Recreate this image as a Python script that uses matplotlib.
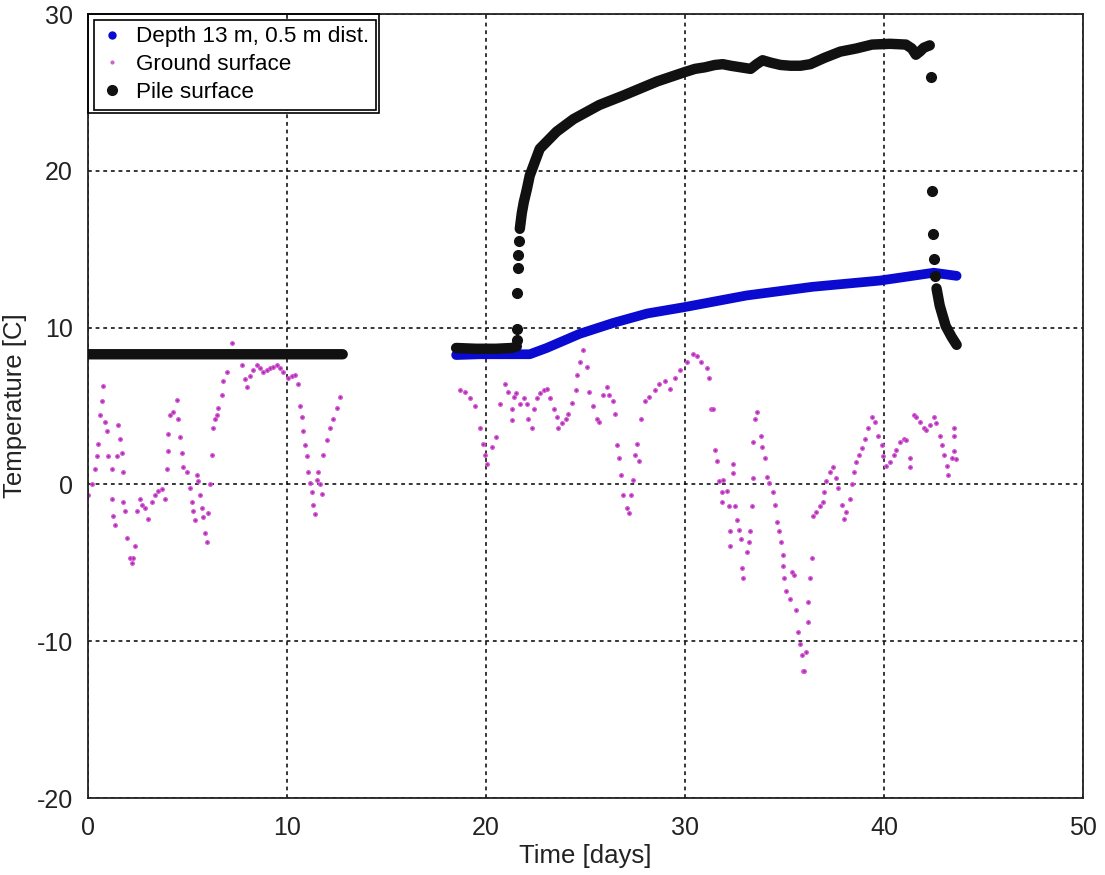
import matplotlib
matplotlib.use('Agg')
import matplotlib.pyplot as plt
import numpy as np
from matplotlib.lines import Line2D
from matplotlib.patches import Rectangle
from matplotlib.transforms import IdentityTransform

plt.rcParams['font.family'] = ['Liberation Sans', 'DejaVu Sans']
plt.rcParams['axes.unicode_minus'] = False

# Depth 13 m, 0.5 m dist. (dense record, read along the band)
depth_day = [18.5, 19.7, 21.0, 22.2, 23.05, 24.7, 26.4, 28.1, 29.95, 33.1, 36.4, 39.8, 42.5, 43.65]
depth_temp = [8.25, 8.3, 8.3, 8.3, 8.7, 9.6, 10.3, 10.9, 11.3, 12.05, 12.6, 13.0, 13.5, 13.3]

# Pile surface, dense parts (nan = gap in the record)
pile_day = [0.0, 4.0, 8.0, 12.8, np.nan,
            18.5, 19.5, 20.5, 21.3, 21.55, np.nan,
            21.7, 21.8, 21.9, 22.05, 22.2, 22.7, 23.55, 24.4, 25.7, 26.9, 28.6, 30.0,
            30.5, 31.0, 31.5, 31.9, 32.3, 32.8, 33.3, 33.6, 33.9, 34.3, 34.8, 35.3, 35.8,
            36.3, 37.0, 37.8, 38.6, 39.4, 40.3, 41.1, 41.4, 41.6, 41.8, 42.0, 42.3, np.nan,
            42.64, 42.8, 43.1, 43.4, 43.65]
pile_temp = [8.3, 8.3, 8.3, 8.3, np.nan,
             8.7, 8.65, 8.65, 8.7, 8.8, np.nan,
             16.3, 17.3, 18.0, 18.8, 19.7, 21.4, 22.5, 23.3, 24.2, 24.8, 25.7, 26.3,
             26.5, 26.6, 26.75, 26.8, 26.7, 26.6, 26.5, 26.8, 27.05, 26.9, 26.75, 26.7, 26.7,
             26.8, 27.2, 27.6, 27.8, 28.05, 28.1, 28.05, 27.8, 27.4, 27.6, 27.85, 28.0, np.nan,
             12.5, 11.4, 10.1, 9.4, 8.9]

# Pile surface, isolated readings during fast changes
pile_pts_day = [21.54, 21.54, 21.56, 21.6, 21.63, 21.66, 42.35, 42.4, 42.45, 42.5, 42.55]
pile_pts_temp = [9.2, 9.9, 12.2, 13.8, 14.6, 15.5, 26.0, 18.7, 16.0, 14.4, 13.3]

# Ground surface
ground_day = [0.02, 0.19, 0.35, 0.44, 0.52, 0.6, 0.69, 0.74, 0.86, 0.94, 1.02, 1.19, 1.19, 1.27,
              1.36, 1.44, 1.53, 1.61, 1.69, 1.78, 1.78, 1.86, 1.95, 2.11, 2.2, 2.28, 2.36, 2.45,
              2.62, 2.7, 2.87, 3.03, 3.2, 3.37, 3.54, 3.7, 3.87, 3.96, 4.04, 4.04, 4.12, 4.29,
              4.46, 4.54, 4.63, 4.71, 4.79, 4.96, 5.13, 5.21, 5.3, 5.38, 5.46, 5.55, 5.63, 5.71,
              5.8, 5.88, 5.97, 6.05, 6.13, 6.22, 6.3, 6.38, 6.47, 6.55, 6.72, 6.8, 6.97, 7.22,
              7.47, 7.72, 7.89, 7.97, 8.14, 8.3, 8.48, 8.65, 8.81, 8.98, 9.15, 9.3, 9.48, 9.65,
              9.82, 10.07, 10.25, 10.4, 10.57, 10.66, 10.74, 10.82, 10.91, 11.0, 11.07, 11.16,
              11.24, 11.33, 11.41, 11.49, 11.58, 11.66, 11.74, 11.83, 12.0, 12.16, 12.33, 12.5,
              12.66,
              18.7, 18.95, 19.2, 19.45, 19.7, 19.87, 19.95, 20.04, 20.3, 20.5, 20.7, 20.96,
              21.1, 21.3, 21.3, 21.4, 21.5, 21.7, 21.9, 22.05, 22.1, 22.3, 22.4, 22.55, 22.7,
              22.9, 23.05, 23.2, 23.4, 23.55, 23.6, 23.8, 24.0, 24.1, 24.3, 24.5, 24.55, 24.7,
              24.9, 25.06, 25.2, 25.4, 25.6, 25.7, 25.9, 26.1, 26.2, 26.4, 26.5, 26.6, 26.7,
              26.8, 26.9, 27.1, 27.2, 27.3, 27.4, 27.5, 27.6, 27.7, 27.8, 28.0, 28.2, 28.5,
              28.7, 29.0, 29.25, 29.5, 29.75, 30.1, 30.4, 30.6, 30.8, 31.1, 31.2, 31.3, 31.4,
              31.5, 31.6, 31.7, 31.85, 31.9, 32.1, 31.85, 32.2, 32.25, 32.25, 32.4, 32.4, 32.5,
              32.6, 32.7, 32.8, 32.85, 32.9, 33.1, 33.2, 33.25, 33.35, 33.4, 33.4, 33.5, 33.6,
              33.8, 33.85, 34.0, 34.1, 34.2, 34.4, 34.5, 34.6, 34.7, 34.8, 34.9, 34.95, 35.0,
              35.1, 35.3, 35.4, 35.5, 35.6, 35.7, 35.8, 35.9, 35.95, 36.0, 36.1, 36.2, 36.2,
              36.3, 36.4, 36.45, 36.6, 36.8, 36.95, 37.0, 37.1, 37.3, 37.45, 37.6, 37.7, 37.9,
              38.0, 38.1, 38.3, 38.4, 38.5, 38.6, 38.75, 38.9, 39.05, 39.2, 39.4, 39.55, 39.7,
              39.9, 39.97, 40.1, 40.3, 40.5, 40.6, 40.8, 41.0, 41.1, 41.3, 41.3, 41.5, 41.6,
              41.8, 42.0, 42.1, 42.3, 42.5, 42.6, 42.8, 42.9, 43.0, 43.15, 43.2, 43.4, 43.5,
              43.5, 43.5, 43.6]
ground_temp = [-0.7, 0.0, 1.0, 1.8, 2.6, 4.4, 5.3, 6.3, 4.0, 3.4, 1.8, 1.0, -0.9, -2.0,
               -2.6, 1.8, 3.8, 2.9, 2.0, 0.8, -1.1, -1.7, -3.4, -4.7, -5.0, -4.7, -3.9, -1.7,
               -0.9, -1.3, -1.5, -2.2, -1.1, -0.7, -0.4, -0.3, -0.9, 1.0, 2.1, 3.2, 4.4, 4.6,
               5.4, 4.2, 3.0, 2.0, 1.1, 0.8, -0.2, -1.1, -1.7, -2.3, 0.6, 0.2, -0.7, -1.5,
               -2.1, -3.1, -3.7, -1.8, 0.0, 1.9, 3.6, 4.2, 4.4, 4.9, 5.7, 6.6, 7.2, 9.0,
               8.3, 7.6, 6.75, 6.2, 6.9, 7.3, 7.6, 7.4, 7.2, 7.3, 7.4, 7.5, 7.6, 7.4,
               7.2, 6.8, 6.9, 7.0, 6.4, 5.0, 4.3, 3.4, 2.5, 1.8, 0.8, 0.1,
               -0.5, -1.3, -1.9, 0.3, 0.8, 0.0, -0.6, 1.9, 2.8, 3.6, 4.2, 4.9,
               5.6,
               6.0, 5.9, 5.5, 5.0, 3.6, 2.6, 1.9, 1.3, 2.4, 3.0, 5.1, 6.4,
               5.9, 4.8, 4.1, 5.6, 5.8, 5.1, 5.5, 5.1, 4.2, 3.6, 4.8, 5.5, 5.8,
               6.0, 6.1, 5.5, 4.8, 4.3, 3.6, 3.9, 4.2, 4.5, 5.2, 6.0, 7.0, 7.8,
               8.6, 7.5, 5.9, 5.0, 4.2, 4.0, 5.7, 6.2, 5.7, 5.3, 4.5, 2.5, 1.7,
               0.6, -0.7, -1.5, -1.8, -0.7, 0.3, 1.9, 2.6, 1.5, 4.2, 5.3, 5.6, 6.0,
               6.4, 6.6, 6.1, 6.8, 7.3, 7.8, 8.3, 8.2, 7.8, 7.4, 6.8, 4.8, 4.8,
               2.2, 1.5, 0.2, -0.5, 0.3, -0.4, -1.1, -1.4, -3.0, -3.9, 1.3, 0.7, -1.4,
               -2.3, -2.9, -3.5, -5.3, -6.0, -4.3, -3.7, -3.0, -1.4, 0.4, 2.7, 4.2, 4.6,
               3.1, 2.4, 1.7, 0.5, 0.1, -0.5, -1.3, -2.4, -3.0, -3.7, -4.5, -5.2, -6.0,
               -6.8, -7.3, -5.6, -5.8, -8.0, -9.4, -10.2, -10.9, -11.9, -11.9, -10.7, -8.8, -7.5,
               -6.0, -4.7, -2.0, -1.75, -1.4, -1.1, -0.5, 0.2, 0.8, 1.1, 0.4, -0.2, -1.3,
               -2.2, -1.75, -0.9, 0.0, 0.8, 1.4, 1.9, 2.3, 2.9, 3.6, 4.3, 4.0, 3.1,
               2.5, 1.8, 1.2, 1.4, 1.9, 2.2, 2.7, 2.9, 2.8, 1.7, 1.1, 4.4, 4.3,
               4.0, 3.6, 3.5, 3.8, 4.3, 3.9, 3.1, 2.5, 1.9, 1.2, 0.6, 1.7, 2.1,
               3.1, 3.6, 1.6]

fig = plt.figure(figsize=(11.05, 8.75), dpi=100)
ax = fig.add_axes([0.0796, 0.088, 0.9005, 0.896])

blue = '#0a0ad0'
black = '#111111'
ax.plot(ground_day, ground_temp, linestyle='none', marker='o', ms=2.6,
        markerfacecolor='#8a3a8a', markeredgecolor='#e050e0', mew=0.9, zorder=2)
ax.plot(depth_day, depth_temp, color=blue, lw=7, solid_capstyle='round', zorder=3)
ax.plot(pile_day, pile_temp, color=black, lw=7.5, solid_capstyle='round',
        solid_joinstyle='round', zorder=4)
ax.plot(pile_pts_day, pile_pts_temp, linestyle='none', marker='o', ms=7,
        color=black, zorder=4)

ax.set_xlim(0, 50)
ax.set_ylim(-20, 30)
ax.set_xticks(range(0, 51, 10))
ax.set_yticks(range(-20, 31, 10))
ax.tick_params(length=0, labelsize=18, colors='#222222')
ax.tick_params(axis='x', pad=13)
ax.tick_params(axis='y', pad=11)
ax.grid(True, color='black', linestyle=(0, (2.5, 2.5)), linewidth=1.1)
for s in ax.spines.values():
    s.set_linewidth(1.3)
    s.set_color('#222222')

ax.set_xlabel('Time [days]', fontsize=18.5, labelpad=3, color='#222222')
ax.set_ylabel('Temperature [C]', fontsize=18.5, labelpad=7, color='#222222')

handles = [
    Line2D([], [], linestyle='none', marker='o', ms=5, color=blue),
    Line2D([], [], linestyle='none', marker='o', ms=2, color='#cc66cc'),
    Line2D([], [], linestyle='none', marker='o', ms=7, color=black),
]
labels = ['Depth 13 m, 0.5 m dist.', 'Ground surface', 'Pile surface']
leg = ax.legend(handles, labels, loc='upper left', bbox_to_anchor=(0, 1),
                borderaxespad=0.25, fancybox=False, framealpha=1,
                edgecolor='black', fontsize=16.2, handlelength=1.0,
                handletextpad=0.6, borderpad=0.3, labelspacing=0.3)
leg.get_frame().set_linewidth(1.2)
leg.set_zorder(10)

fig.canvas.draw()
bb = ax.get_window_extent()
lb = leg.get_window_extent()
# outer frame around the legend box, flush with the axes corner
outer = Rectangle((bb.x0, lb.y0 - 3), lb.x1 + 3 - bb.x0, bb.y1 - lb.y0 + 3,
                  transform=IdentityTransform(), fill=False, edgecolor='black',
                  linewidth=1.2, zorder=11)
fig.add_artist(outer)

fig.savefig('out.png', dpi=100)
